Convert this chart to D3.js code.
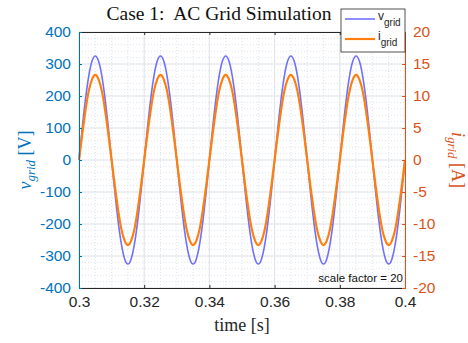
<!DOCTYPE html>
<html><head><meta charset="utf-8">
<script src="https://cdn.jsdelivr.net/npm/d3@7"></script>
<style>body{margin:0;background:#fff}svg{display:block}</style>
</head><body>
<script>
// time samples every 1 ms from 0.3 s to 0.4 s
const timeStart = 0.3, timeStep = 0.001;
const vCycle = [0, 100, 191, 263, 309, 325, 309, 263, 191, 100, 0, -100, -191, -263, -309, -325, -309, -263, -191, -100];
const iCycle = [0, 4.1, 7.8, 10.8, 12.6, 13.3, 12.6, 10.8, 7.8, 4.1, 0, -4.1, -7.8, -10.8, -12.6, -13.3, -12.6, -10.8, -7.8, -4.1];
const vGrid = [...vCycle, ...vCycle, ...vCycle, ...vCycle, ...vCycle, 0];
const iGrid = [...iCycle, ...iCycle, ...iCycle, ...iCycle, ...iCycle, 0];
const xTicks = [0.3, 0.32, 0.34, 0.36, 0.38, 0.4];
const xTickLabels = ["0.3", "0.32", "0.34", "0.36", "0.38", "0.4"];
const yLeftTicks = [-400, -300, -200, -100, 0, 100, 200, 300, 400];
const yRightTicks = [-20, -15, -10, -5, 0, 5, 10, 15, 20];
const seriesNames = ["grid", "grid"];

const W = 468, H = 343;
const L = 79, R = 405, T = 32, B = 288;
const svg = d3.select("body").append("svg").attr("width", W).attr("height", H);
const x = d3.scaleLinear().domain([0.3, 0.4]).range([L, R]);
const yL = d3.scaleLinear().domain([-400, 400]).range([B, T]);
const yR = d3.scaleLinear().domain([-20, 20]).range([B, T]);
const blue = "#0072BD", orange = "#D95319";
const sans = "'Liberation Sans', Arial, sans-serif";
const serif = "'Liberation Serif', 'DejaVu Serif', serif";

// minor grid
const g = svg.append("g");
g.selectAll(".mx").data(d3.range(0.3, 0.4001, 0.005)).join("line")
  .attr("x1", d => x(d)).attr("x2", d => x(d)).attr("y1", T).attr("y2", B)
  .attr("stroke", "#d8e0ea").attr("stroke-dasharray", "1,2").attr("stroke-width", 0.9);
g.selectAll(".my").data(d3.range(-400, 401, 20)).join("line")
  .attr("y1", d => yL(d)).attr("y2", d => yL(d)).attr("x1", L).attr("x2", R)
  .attr("stroke", "#d8e0ea").attr("stroke-dasharray", "1,2").attr("stroke-width", 0.9);
// major grid
g.selectAll(".Mx").data(xTicks).join("line")
  .attr("x1", d => x(d)).attr("x2", d => x(d)).attr("y1", T).attr("y2", B)
  .attr("stroke", "#e0e4e9").attr("stroke-width", 1);
g.selectAll(".My").data(yLeftTicks).join("line")
  .attr("y1", d => yL(d)).attr("y2", d => yL(d)).attr("x1", L).attr("x2", R)
  .attr("stroke", "#e0e4e9").attr("stroke-width", 1);

// lines
const times = vGrid.map((_, k) => timeStart + k * timeStep);
const lineV = d3.line().x((d, k) => x(times[k])).y(d => yL(d)).curve(d3.curveNatural);
const lineI = d3.line().x((d, k) => x(times[k])).y(d => yR(d)).curve(d3.curveNatural);
svg.append("path").attr("d", lineV(vGrid)).attr("fill", "none").attr("stroke", "#7070ff").attr("stroke-width", 1.6);
svg.append("path").attr("d", lineI(iGrid)).attr("fill", "none").attr("stroke", "#ff7f0e").attr("stroke-width", 2.2);

const fmt = d => String(d);
// axes
const ax = svg.append("g").attr("transform", `translate(0,${B})`)
  .call(d3.axisBottom(x).tickValues(xTicks).tickFormat((d, k) => xTickLabels[k]).tickSize(-3).tickPadding(8));
ax.select(".domain").attr("stroke", "#262626");
ax.selectAll(".tick line").attr("stroke", "#262626");
ax.selectAll("text").attr("font-family", sans).attr("font-size", 15.5).attr("fill", "#262626");
const axT = svg.append("g").attr("transform", `translate(0,${T})`)
  .call(d3.axisTop(x).tickValues(xTicks).tickFormat("").tickSize(-3));
axT.select(".domain").attr("stroke", "#262626");
axT.selectAll(".tick line").attr("stroke", "#262626");

const ayL = svg.append("g").attr("transform", `translate(${L},0)`)
  .call(d3.axisLeft(yL).tickValues(yLeftTicks).tickFormat(fmt).tickSize(-3).tickPadding(8));
ayL.select(".domain").attr("stroke", blue);
ayL.selectAll(".tick line").attr("stroke", blue);
ayL.selectAll("text").attr("font-family", sans).attr("font-size", 15.5).attr("fill", blue);
const ayR = svg.append("g").attr("transform", `translate(${R},0)`)
  .call(d3.axisRight(yR).tickValues(yRightTicks).tickFormat(fmt).tickSize(-3).tickPadding(8));
ayR.select(".domain").attr("stroke", orange);
ayR.selectAll(".tick line").attr("stroke", orange);
ayR.selectAll("text").attr("font-family", sans).attr("font-size", 15.5).attr("fill", orange);

// title
svg.append("text").attr("x", 219).attr("y", 20).attr("text-anchor", "middle")
  .attr("font-family", serif).attr("font-size", 19.5).attr("fill", "#111")
  .style("white-space", "pre").text("Case 1:  AC Grid Simulation");

// x label
svg.append("text").attr("x", 242).attr("y", 331).attr("text-anchor", "middle")
  .attr("font-family", serif).attr("font-size", 18).attr("fill", "#262626").text("time [s]");

// y labels
const ylab = svg.append("text").attr("transform", `translate(31,${(T + B) / 2}) rotate(-90)`)
  .attr("text-anchor", "middle").attr("font-family", serif).attr("font-size", 18).attr("fill", blue);
ylab.append("tspan").attr("font-style", "italic").text("v");
ylab.append("tspan").attr("font-style", "italic").attr("font-size", 13).attr("dy", 4).text(seriesNames[0]);
ylab.append("tspan").attr("dy", -4).style("white-space", "pre").text(" [V]");
const yrlab = svg.append("text").attr("transform", `translate(452,${(T + B) / 2}) rotate(90)`)
  .attr("text-anchor", "middle").attr("font-family", serif).attr("font-size", 18).attr("fill", orange);
yrlab.append("tspan").attr("font-style", "italic").text("i");
yrlab.append("tspan").attr("font-style", "italic").attr("font-size", 13).attr("dy", 4).text(seriesNames[1]);
yrlab.append("tspan").attr("dy", -4).style("white-space", "pre").text(" [A]");

// legend
const lg = svg.append("g");
lg.append("rect").attr("x", 341).attr("y", 9).attr("width", 64).attr("height", 43)
  .attr("fill", "#fff").attr("stroke", "#262626").attr("stroke-width", 0.8);
const legendItems = [{n: "v", c: "#7070ff", w: 1.6}, {n: "i", c: "#ff7f0e", w: 2.2}];
legendItems.forEach((it, k) => {
  const yy = 19 + k * 20;
  lg.append("line").attr("x1", 345).attr("x2", 375).attr("y1", yy).attr("y2", yy)
    .attr("stroke", it.c).attr("stroke-width", it.w);
  const t = lg.append("text").attr("x", 378).attr("y", yy + 1).attr("font-family", sans)
    .attr("font-size", 12).attr("fill", "#262626");
  t.append("tspan").text(it.n);
  t.append("tspan").attr("font-size", 10).attr("dy", 6).text(seriesNames[k]);
});

// annotation
svg.append("text").attr("x", 403).attr("y", 282).attr("text-anchor", "end")
  .attr("font-family", sans).attr("font-size", 11.5).attr("fill", "#111").text("scale factor = 20");
</script>
</body></html>
